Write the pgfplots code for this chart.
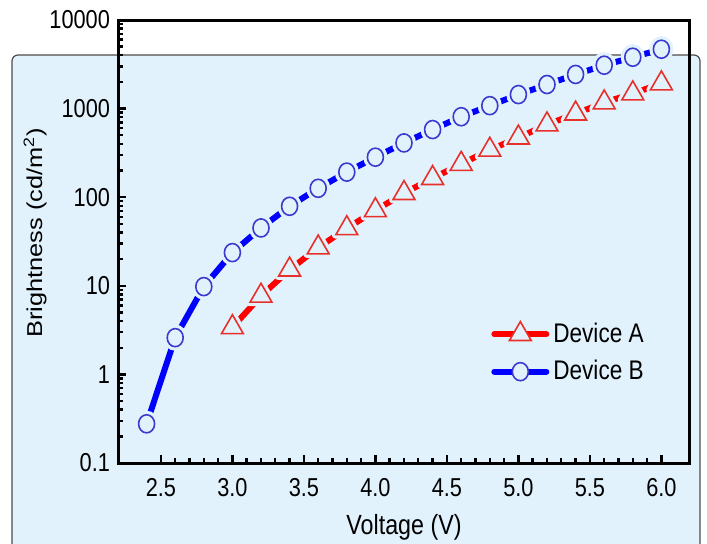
\documentclass[border=0pt]{standalone}
\usepackage{pgfplots}
\pgfplotsset{compat=1.18}
\usepackage{fontspec}
\setmainfont{Liberation Sans}[FakeStretch=0.84]
\newfontfamily\ylfont{Liberation Sans}[FakeStretch=1.18]
\definecolor{bgblue}{HTML}{E1F2FC}
\definecolor{mred}{HTML}{E8302A}
\definecolor{mblue}{HTML}{3A3AD0}
\pgfplotstableread{
x y
3.0 3.4
3.2 7.7
3.4 15.2
3.6 27
3.8 44.5
4.0 71
4.2 111
4.4 164
4.6 237
4.8 342
5.0 470
5.2 660
5.4 875
5.6 1170
5.8 1480
6.0 1920
}\devA
\pgfplotstableread{
x y
2.4 0.277
2.6 2.6
2.8 9.8
3.0 23.7
3.2 45
3.4 79
3.6 126
3.8 192
4.0 283
4.2 410
4.4 580
4.6 810
4.8 1080
5.0 1440
5.2 1870
5.4 2430
5.6 3090
5.8 3800
6.0 4680
}\devB
\begin{document}
\begin{tikzpicture}
\path[use as bounding box] (0,0) rectangle (353.5bp,-272bp);
\fill[bgblue, draw=black!70, line width=0.6bp, rounded corners=3bp] (6bp,-27.5bp) rectangle (350bp,-285bp);
\begin{axis}[
  at={(59bp,-231.5bp)}, anchor=south west,
  scale only axis, width=286bp, height=221.5bp,
  ymode=log, xmin=2.2, xmax=6.2, ymin=0.1, ymax=10000,
  axis line style={line width=1.5bp},
  xtick={2.5,3.0,3.5,4.0,4.5,5.0,5.5,6.0},
  xticklabels={2.5,3.0,3.5,4.0,4.5,5.0,5.5,6.0},
  minor x tick num=4,
  ytick={0.1,1,10,100,1000,10000},
  yticklabels={0.1,1,10,100,1000,10000},
  xtick pos=left, ytick pos=left,
  tick style={black, line width=1.2bp},
  major tick length=4bp, minor tick length=2.5bp,
  tick label style={font=\fontsize{13}{15}\selectfont},
  xticklabel style={anchor=center, yshift=-12.5bp},
  yticklabel style={xshift=-0.5bp},
  xlabel={Voltage (V)}, ylabel={Brightness (cd/m\textsuperscript{2})},
  xlabel style={at={(axis description cs:0.5,-0.1445)}, anchor=center, font=\fontsize{13.9}{15}\selectfont},
  ylabel style={at={(axis description cs:-0.145,0.52)}, anchor=center, font=\ylfont\fontsize{10.8}{13}\selectfont},
  /pgf/number format/assume math mode=true,
  legend style={at={(0.652,0.326)}, anchor=north west, draw=none, fill=none,
    font=\fontsize{13.5}{15}\selectfont, row sep=3.5bp, inner sep=0pt},
  legend cell align=left,
  legend image code/.code={\draw[mark repeat=2,mark phase=2,#1] plot coordinates {(0bp,0bp) (13bp,0bp) (26bp,0bp)};},
]
% Device A
\addplot[red, line width=3bp, line cap=round, forget plot] table[x=x,y=y] {\devA};
\addplot[only marks, mark=triangle*, mark size=6.3bp, mark options={draw=bgblue, fill=bgblue, line width=4bp, line join=round}, forget plot] table[x=x,y=y] {\devA};
\addplot[only marks, mark=triangle*, mark size=6.3bp, mark options={draw=mred, fill=bgblue, line width=0.8bp}, forget plot] table[x=x,y=y] {\devA};
% Device B
\addplot[blue, line width=3bp, line cap=round, forget plot] table[x=x,y=y] {\devB};
\addplot[only marks, mark=*, mark size=4bp, mark options={yscale=1.13, draw=bgblue, fill=bgblue, line width=4bp}, forget plot] table[x=x,y=y] {\devB};
\addplot[only marks, mark=*, mark size=4bp, mark options={yscale=1.13, draw=mblue, fill=bgblue, line width=0.8bp}, forget plot] table[x=x,y=y] {\devB};
\addlegendimage{red, line width=3bp, line cap=round, mark=triangle*, mark size=6.3bp, mark options={draw=mred, fill=bgblue, line width=0.8bp}}
\addlegendentry{Device A}
\addlegendimage{blue, line width=3bp, line cap=round, mark=*, mark size=4bp, mark options={yscale=1.13, draw=mblue, fill=bgblue, line width=0.8bp}}
\addlegendentry{Device B}
\end{axis}
\end{tikzpicture}
\end{document}
